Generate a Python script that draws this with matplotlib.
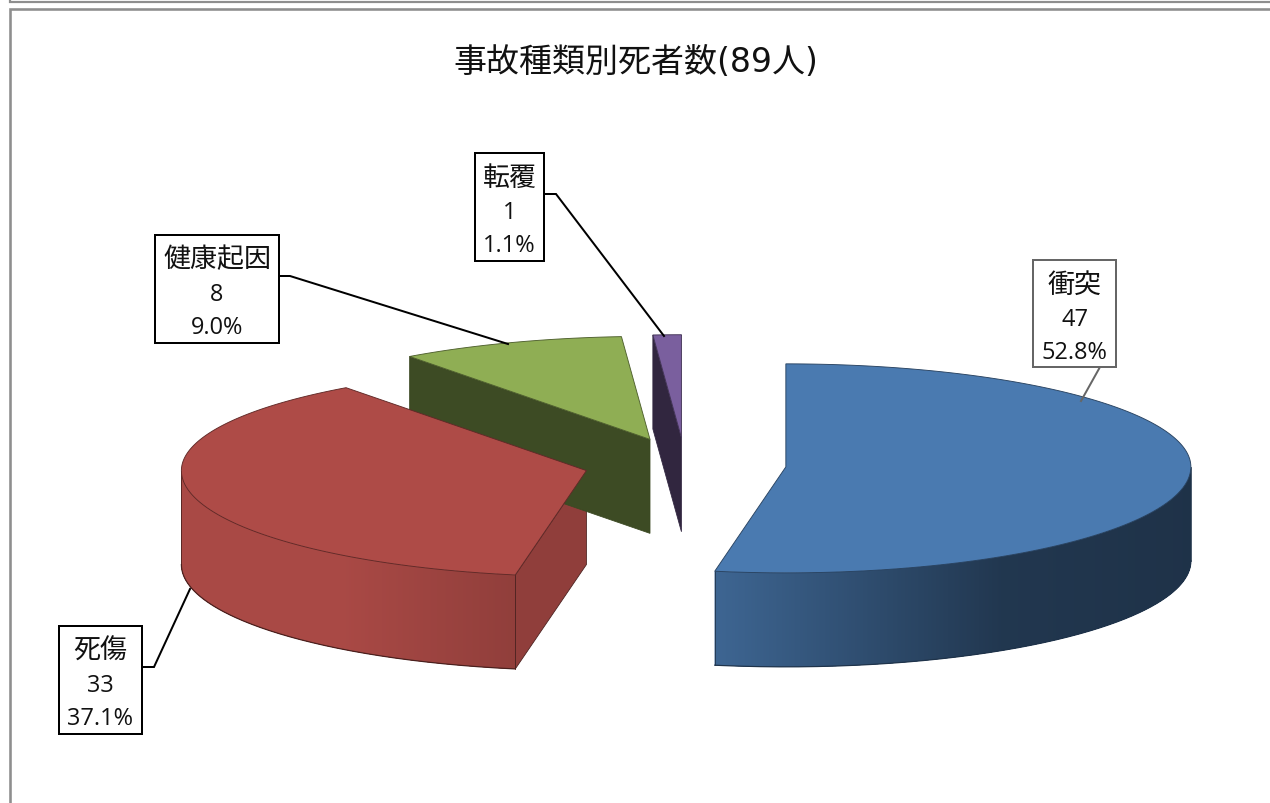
import numpy as np
import matplotlib
matplotlib.use("Agg")
import matplotlib.pyplot as plt
from matplotlib.patches import Polygon, Rectangle
from matplotlib.colors import to_rgb

# Fatalities by accident type
categories = ["衝突", "死傷", "健康起因", "転覆"]
counts = [47, 33, 8, 1]
title = "事故種類別死者数(89人)"

# Styling per slice, in the same order as the categories
top_colors = ["#4a7ab0", "#ae4b47", "#8fae54", "#7a5f9e"]
cut_shades = [1.0, 0.83, 0.43, 0.40]
box_edges = ["#666666", "#000000", "#000000", "#000000"]
box_rects = [(1033, 261, 83, 107), (59, 627, 83, 108), (155, 236, 124, 108), (475, 154, 69, 108)]
leaders = [
    [(1100, 368), (1081, 402)],
    [(142, 668), (154, 668), (190, 590)],
    [(279, 277), (290, 277), (508, 345)],
    [(544, 195), (556, 195), (664, 337)],
]

# Pie geometry on a canvas measured in pixels
CX, CY = 685, 465.5
RX = 405
RY_BACK, RY_FRONT = 103, 106  # the near half of the ellipse reads slightly deeper
DEPTH = 94
EXPLODE_X, EXPLODE_Y = 0.25, 0.26
PX = 0.72  # points per pixel at 100 dpi


def shade(color, factor):
    return tuple(min(1, c * factor) for c in to_rgb(color))


def side_factor(nx):
    """Brightness of the outer wall as a function of normalised horizontal position."""
    return np.interp(nx, [-1, -0.6, -0.178, 0.53, 1], [0.97, 0.97, 0.83, 0.45, 0.41])


def rim(cx, cy, theta):
    t = np.radians(np.atleast_1d(theta))
    c = np.cos(t)
    ry = np.where(c < 0, RY_FRONT, RY_BACK)
    return np.column_stack([cx + RX * np.sin(t), cy - ry * c])


fig = plt.figure(figsize=(12.7, 8.04), dpi=100)
ax = fig.add_axes([0, 0, 1, 1])
ax.set_xlim(0, 1270)
ax.set_ylim(804, 0)
ax.axis("off")

# Page frame
frame = "#8e8e8e"
ax.plot([9.5, 9.5, 1270], [804, 10, 10], color=frame, lw=2.6 * PX, solid_joinstyle="miter")
ax.plot([9.5, 9.5, 1270], [0, 3, 3], color=frame, lw=2.2 * PX, solid_joinstyle="miter")

# Slice angles, clockwise from twelve o'clock
values = np.array(counts, dtype=float)
edges = np.concatenate([[0], np.cumsum(values) / values.sum() * 360])

# Back slices first, so the red wedge sits over the green cut face
for i in [3, 2, 0, 1]:
    a0, a1 = edges[i], edges[i + 1]
    mid = np.radians((a0 + a1) / 2)
    cx = CX + EXPLODE_X * RX * np.sin(mid)
    cy = CY - EXPLODE_Y * RY_BACK * np.cos(mid)
    base = top_colors[i]
    line = shade(base, 0.42)

    # Cut face on the leading edge, seen when it turns toward the viewer
    if 180 <= a0 < 360:
        p = rim(cx, cy, a0)[0]
        ax.add_patch(Polygon([(cx, cy), p, (p[0], p[1] + DEPTH), (cx, cy + DEPTH)],
                             closed=True, facecolor=shade(base, cut_shades[i]),
                             edgecolor=line, lw=0.8 * PX, zorder=2 + i * 0.01))

    # Outer wall on the lower half of the ellipse, built from narrow shaded strips
    lo, hi = max(a0, 90), min(a1, 270)
    if lo < hi:
        th = np.linspace(lo, hi, 481)
        pts = rim(cx, cy, th)
        wall = Polygon(np.vstack([pts, (pts + [0, DEPTH])[::-1]]), closed=True,
                       facecolor="none", edgecolor="none", transform=ax.transData)
        ax.add_patch(wall)
        for k in range(len(th) - 1):
            nx = np.sin(np.radians((th[k] + th[k + 1]) / 2))
            col = shade(base, side_factor(nx))
            strip = Polygon([pts[k], pts[k + 1], pts[k + 1] + [0, DEPTH], pts[k] + [0, DEPTH]],
                            closed=True, facecolor=col, edgecolor=col, lw=1.0,
                            antialiased=False, zorder=2.1)
            ax.add_patch(strip)
            strip.set_clip_path(wall)
        ax.plot(pts[:, 0], pts[:, 1] + DEPTH, color=line, lw=1.2 * PX, zorder=2.2)
        ax.plot([pts[0, 0]] * 2, [pts[0, 1], pts[0, 1] + DEPTH], color=line, lw=0.8 * PX, zorder=2.2)
        ax.plot([pts[-1, 0]] * 2, [pts[-1, 1], pts[-1, 1] + DEPTH], color=line, lw=0.8 * PX, zorder=2.2)

    # Top face
    th = np.linspace(a0, a1, 300)
    outline = np.vstack([[cx, cy], rim(cx, cy, th)])
    ax.add_patch(Polygon(outline, closed=True, facecolor=base,
                         edgecolor=shade(base, 0.55), lw=0.9 * PX, zorder=2.3))

# Leader lines and data-label boxes
for i, name in enumerate(categories):
    xs, ys = zip(*leaders[i])
    ax.plot(xs, ys, color=box_edges[i], lw=2.0 * PX, zorder=4, solid_joinstyle="miter")
    x, y, w, h = box_rects[i]
    ax.add_patch(Rectangle((x, y), w, h, facecolor="white", edgecolor=box_edges[i],
                           lw=2.0 * PX, zorder=5))
    xc = x + w / 2
    pct = counts[i] / sum(counts) * 100
    ax.text(xc, y + 24, name, ha="center", va="center", zorder=6, color="#111111",
            family=["Noto Sans CJK JP", "DejaVu Sans"], fontsize=27 * PX)
    ax.text(xc, y + 59, f"{counts[i]}", ha="center", va="center", zorder=6, color="#111111",
            family="Open Sans", fontsize=23.5 * PX)
    ax.text(xc, y + 92, f"{pct:.1f}%", ha="center", va="center", zorder=6, color="#111111",
            family="Open Sans", fontsize=23.5 * PX)

ax.text(453, 62, title, ha="left", va="center", color="#111111",
        family=["DejaVu Sans", "Noto Sans CJK JP"], fontsize=33 * PX)

fig.savefig("out.png", dpi=100, facecolor="white")
